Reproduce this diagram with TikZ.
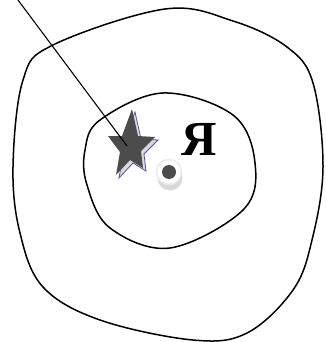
\documentclass[tikz,border=0pt]{standalone}
\usepackage{fontspec}
\setmainfont{Liberation Serif}
\begin{document}
\begin{tikzpicture}[x=1pt,y=-1pt,
  contour/.style={line width=1.5pt,black},
  lead/.style={line width=1.1pt,black}]
\useasboundingbox (0,0) rectangle (325,342);
% outer contour
\draw[contour] plot[smooth cycle,tension=0.6] coordinates{
 (165,9) (233,21) (287,47) (313,83) (323,167) (312,240) (293,290) (247,333)
 (193,340) (100,320) (43,287) (20,233) (13,167) (23,80) (53,45)};
% inner contour
\draw[contour] plot[smooth cycle,tension=0.6] coordinates{
 (163,93) (233,115) (255,163) (243,210) (170,248) (110,228) (87,185) (85,150) (100,120)};
% star shadow
\draw[fill=gray!30,draw=blue!35!gray,line width=0.8pt,shift={(3,3)}]
 (132,109) -- (138,136) -- (155,137) -- (141,151) -- (143,168) -- (130,160) -- (116,175) -- (120,152) -- (108,136) -- (122,136) -- cycle;
\fill[black!70]
 (132,109) -- (138,136) -- (155,137) -- (141,151) -- (143,168) -- (130,160) -- (116,175) -- (120,152) -- (108,136) -- (122,136) -- cycle;
\coordinate (starc) at (127,146);
\coordinate (top) at (18,0);
\draw[lead] (top) -- (starc);
% disk
\node[circle,fill=gray!30,minimum size=25pt,inner sep=0pt] (diskshadow) at (170,178) {};
\node[circle,fill=white,draw=gray!15,line width=1.5pt,minimum size=25pt,inner sep=0pt] (disk) at (169,172) {};
\node[circle,fill=black!70,minimum size=14pt,inner sep=0pt] (dot) at (169,172) {};
% letter
\node[font=\bfseries\fontsize{49}{49}\selectfont,inner sep=0pt] (ya) at (199,139) {Я};
\end{tikzpicture}
\end{document}
